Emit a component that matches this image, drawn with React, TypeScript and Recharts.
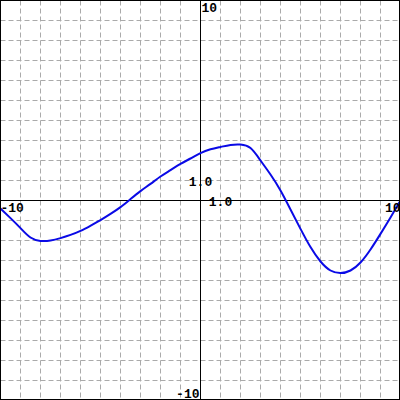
import React from 'react';
import { LineChart, Line, XAxis, YAxis, CartesianGrid, ReferenceLine, ReferenceDot } from 'recharts';

const xs = [-10, -9.5, -9, -8.5, -8, -7.5, -7, -6.5, -6, -5.5, -5, -4.5, -4, -3.5, -3, -2.5, -2, -1.5, -1, -0.5, 0, 0.5, 1, 1.5, 2, 2.5, 3, 3.5, 4, 4.5, 5, 5.5, 6, 6.5, 7, 7.5, 8, 8.5, 9, 9.5, 10];
const ys = [-0.4, -0.88, -1.38, -1.85, -2.02, -2.0, -1.88, -1.72, -1.52, -1.26, -0.98, -0.67, -0.33, 0.07, 0.47, 0.83, 1.2, 1.52, 1.83, 2.1, 2.37, 2.56, 2.68, 2.78, 2.8, 2.62, 2.0, 1.3, 0.5, -0.45, -1.42, -2.33, -3.05, -3.5, -3.63, -3.5, -3.1, -2.45, -1.67, -0.85, 0.0];
const gridTicks = [-10, -9, -8, -7, -6, -5, -4, -3, -2, -1, 0, 1, 2, 3, 4, 5, 6, 7, 8, 9, 10];

type Lbl = { x: number; y: number; text: string; dx: number; dy: number; anchor: 'start' | 'middle' | 'end' };
const labels: Lbl[] = [
  { x: 0, y: 10, text: '10', dx: 1, dy: 11, anchor: 'start' },
  { x: 0, y: -10, text: '-10', dx: -1, dy: -3, anchor: 'end' },
  { x: -10, y: 0, text: '-10', dx: 0, dy: 11, anchor: 'start' },
  { x: 10, y: 0, text: '10', dx: 0, dy: 11, anchor: 'end' },
  { x: 0, y: 1, text: '1.0', dx: 0, dy: 5, anchor: 'middle' },
  { x: 1, y: 0, text: '1.0', dx: 0, dy: 5, anchor: 'middle' },
];

const data = xs.map((x, i) => ({ x, y: ys[i] }));

export default function App() {
  return (
    <div style={{ position: 'fixed', left: 0, top: 0, width: 400, height: 400, overflow: 'hidden', background: '#fff' }}>
      <LineChart width={401} height={401} data={data} margin={{ top: 0.5, right: 0.5, bottom: 0.5, left: 0.5 }}>
        <XAxis dataKey="x" type="number" domain={[-10, 10]} ticks={gridTicks} interval={0} hide />
        <YAxis type="number" domain={[-10, 10]} ticks={gridTicks} interval={0} hide />
        <CartesianGrid stroke="#aaaaaa" strokeDasharray="5 3" />
        <ReferenceLine x={0} stroke="#000" strokeWidth={1} />
        <ReferenceLine y={0} stroke="#000" strokeWidth={1} />
        <Line dataKey="y" type="natural" stroke="#0a0ae6" strokeWidth={2} dot={false} isAnimationActive={false} />
        {labels.map((l, i) => (
          <ReferenceDot
            key={i}
            x={l.x}
            y={l.y}
            r={0}
            ifOverflow="visible"
            shape={(p: any) => (
              <text
                x={p.cx + l.dx}
                y={p.cy + l.dy}
                textAnchor={l.anchor}
                fontFamily="Liberation Mono"
                fontWeight="bold"
                fontSize={13}
                fill="#000"
              >
                {l.text}
              </text>
            )}
          />
        ))}
      </LineChart>
      <div style={{ position: 'absolute', left: 0, top: 0, width: 400, height: 400, boxSizing: 'border-box', border: '1px solid #000', pointerEvents: 'none' }} />
    </div>
  );
}
